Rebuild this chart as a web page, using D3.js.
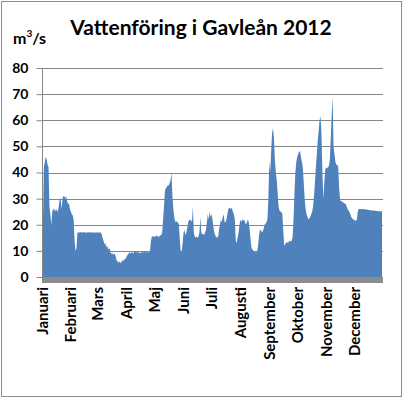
<!DOCTYPE html>
<html>
<head>
<meta charset="utf-8">
<script src="https://cdnjs.cloudflare.com/ajax/libs/d3/7.8.5/d3.min.js"></script>
<style>
  body { margin: 0; background: #fff; }
  text { font-family: Lato, "Open Sans", sans-serif; font-weight: bold; fill: #000; }
</style>
</head>
<body>
<svg id="chart" width="404" height="399"></svg>
<script>
// daily discharge (m3/s), one array per month
const jan = [20, 21, 42, 44, 46, 45, 43, 42, 27, 24, 20, 25, 26, 26, 25, 26, 25.5, 25, 27, 30, 30, 26, 30, 31, 31, 30, 31, 29, 28, 28, 26];
const feb = [25, 24, 23.5, 22, 14, 10, 11, 17, 17, 17, 17.2, 17, 17, 17, 17.2, 17, 17, 17, 17, 17, 17.2, 17, 17, 17, 17, 17, 17, 17, 17];
const mar = [17, 17, 17, 17, 16.5, 15, 14, 12.5, 13, 11.5, 12, 10.5, 11, 10.5, 9, 9, 9, 8.5, 9, 8, 6.5, 6, 5.5, 6, 5.5, 5.5, 6.5, 6, 6.5, 7, 7];
const apr = [8, 8.5, 9, 9.5, 9, 9.5, 9.5, 9, 9.5, 10, 9.5, 9.5, 9.5, 9.5, 9, 9.5, 9.5, 9.5, 9.5, 10, 9.5, 9.5, 9.5, 9.5, 9.5, 10, 14, 15.5, 15.5, 15.5];
const may = [15.5, 15.5, 16, 15.5, 15.5, 15.5, 16, 16, 17, 22, 27, 33, 34, 34.5, 35, 35, 36, 37, 40, 31, 26, 23, 21, 21.5, 21, 21, 20, 14, 9.5, 10, 13];
const jun = [17, 18, 16, 17, 19, 21, 22, 21.5, 22, 21, 27, 17, 15.5, 15, 15.5, 15, 15.5, 17, 23, 17, 16.5, 16.5, 16, 17, 18, 21, 24, 22, 25, 23];
const jul = [24, 22, 19, 17, 16, 15, 15.5, 15, 18, 20, 22, 21, 23, 24, 21, 21, 22, 24, 26, 26.5, 26, 26.5, 26, 25, 24, 22, 14, 13, 15, 17, 20];
const aug = [22, 21, 22, 21.5, 22, 21, 20, 21, 22, 21, 18, 14, 11, 10.5, 10, 10, 9.5, 9.5, 10, 12, 16, 18, 18, 17, 17.5, 18.5, 20, 20.5, 21, 22, 30];
const sep = [44, 40, 48, 55, 57, 53, 45, 40, 37, 32, 27, 25.5, 25, 25, 24, 18, 12, 12.5, 13, 13.5, 13, 13.5, 14, 13.5, 14, 15, 22, 32, 40, 44];
const oct = [46, 47, 48, 48, 46, 44, 42, 36, 30, 26, 24, 23, 22, 22.5, 23, 24, 25, 27, 31, 36, 42, 47, 52, 56, 60, 61.5, 55, 41, 30, 36, 41];
const nov = [42, 41.5, 42, 42.5, 45, 53, 62, 69, 50, 47, 44, 43, 43, 42, 34, 29.5, 29, 29, 28.5, 28.5, 28, 28, 27, 26, 25.5, 25, 24, 23, 22.5, 22];
const dec = [22, 21.5, 21.5, 22, 25, 26, 26, 26, 26, 25.8, 26, 26, 25.8, 25.8, 25.8, 25.6, 25.6, 25.6, 25.5, 25.5, 25.5, 25.5, 25.4, 25.4, 25.3, 25.3, 25.2, 25.2, 25.2, 25, 25.5];

const monthNames = ['Januari', 'Februari', 'Mars', 'April', 'Maj', 'Juni', 'Juli', 'Augusti', 'September', 'Oktober', 'November', 'December'];
const yTicks = [0, 10, 20, 30, 40, 50, 60, 70, 80];

const flow = [].concat(jan, feb, mar, apr, may, jun, jul, aug, sep, oct, nov, dec);
const year = 2012;
const monthStarts = d3.range(12).map((m) => d3.timeDay.count(new Date(year, 0, 1), new Date(year, m, 1)));

const svg = d3.select('#chart');

// outer frame
svg.append('rect')
  .attr('x', 1.5).attr('y', 1.5)
  .attr('width', 400).attr('height', 395)
  .attr('fill', '#fff')
  .attr('stroke', '#8c8c8c');

const x = d3.scaleLinear().domain([0, flow.length - 1]).range([42, 382]);
const y = d3.scaleLinear().domain([0, 80]).range([277, 68]);

// gridlines
svg.append('g')
  .selectAll('line')
  .data(yTicks.filter((t) => t > 0))
  .join('line')
    .attr('x1', 42).attr('x2', 383)
    .attr('y1', (d) => Math.round(y(d)) + 0.5)
    .attr('y2', (d) => Math.round(y(d)) + 0.5)
    .attr('stroke', '#868686');

// floor
svg.append('rect')
  .attr('x', 42).attr('y', y(0))
  .attr('width', 341).attr('height', 6)
  .attr('fill', '#8c8c8c');

// area
const area = d3.area()
  .x((d, i) => x(i))
  .y0(y(0))
  .y1((d) => y(d));

svg.append('path')
  .datum(flow)
  .attr('d', area)
  .attr('fill', '#4f81bd');

// y axis
const yAxis = svg.append('g')
  .attr('transform', 'translate(42.5,0)')
  .call(d3.axisLeft(y).tickValues(yTicks).tickSize(6).tickPadding(8));
yAxis.select('.domain').attr('stroke', '#868686').attr('d', 'M0,68V283');
yAxis.selectAll('.tick line').attr('stroke', '#868686');
yAxis.selectAll('.tick text')
  .style('font-size', '14px')
  .attr('fill', '#000');

// month labels
svg.append('g')
  .selectAll('text')
  .data(monthNames)
  .join('text')
    .attr('transform', (d, i) => `translate(${x(monthStarts[i]) + 5.5},287) rotate(-90)`)
    .attr('text-anchor', 'end')
    .style('font-size', '15px')
    .text((d) => d);

// title and unit
svg.append('text')
  .attr('x', 201).attr('y', 35)
  .attr('text-anchor', 'middle')
  .style('font-size', '21px')
  .text('Vattenföring i Gavleån 2012');

const unit = svg.append('text')
  .attr('x', 13).attr('y', 44)
  .style('font-size', '16px');
unit.append('tspan').text('m');
unit.append('tspan').attr('dy', -7).style('font-size', '10px').text('3');
unit.append('tspan').attr('dy', 7).text('/s');
</script>
</body>
</html>
